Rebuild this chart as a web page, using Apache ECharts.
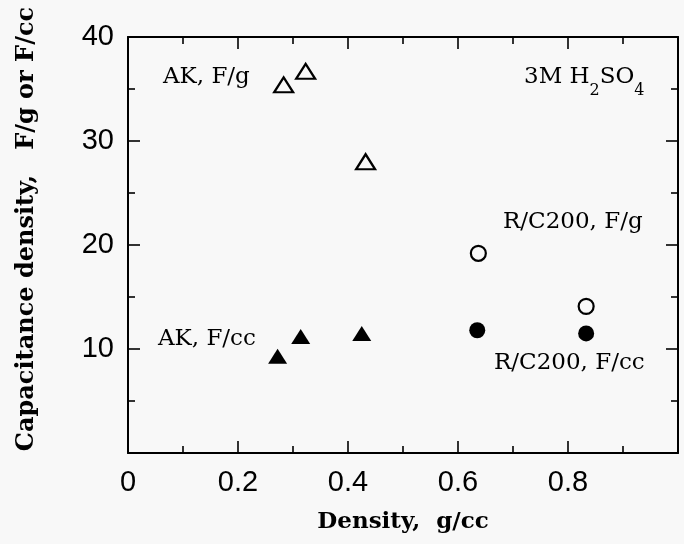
<!DOCTYPE html>
<html>
<head>
<meta charset="utf-8">
<script src="https://cdn.jsdelivr.net/npm/echarts@6/dist/echarts.min.js"></script>
<style>
html,body{margin:0;padding:0;background:#f8f8f8;}
#c{width:684px;height:544px;}
</style>
</head>
<body>
<div id="c"></div>
<script>
// Data
const akFgX = [0.283, 0.323, 0.432];
const akFgY = [35.4, 36.7, 28.0];
const akFccX = [0.272, 0.314, 0.425];
const akFccY = [9.3, 11.2, 11.5];
const rcFgX = [0.637, 0.833];
const rcFgY = [19.2, 14.1];
const rcFccX = [0.635, 0.833];
const rcFccY = [11.8, 11.5];

const xTickLabels = ['0', '0.2', '0.4', '0.6', '0.8', ''];
const yTickLabels = ['', '10', '20', '30', '40'];

const seriesNames = ['AK, F/g', 'AK, F/cc', 'R/C200, F/g', 'R/C200, F/cc'];
const xTitle = 'Density,  g/cc';
const yTitle = 'Capacitance density,   F/g or F/cc';

function zip(xs, ys) { return xs.map((x, i) => [x, ys[i]]); }

const serif = 'DejaVu Serif';
const sans = 'Liberation Sans';

const tickStyle = { color: '#000', width: 1.6 };

function mirrorAxis(extra) {
  return Object.assign({
    type: 'value',
    axisLine: { show: true, onZero: false, lineStyle: { color: '#000', width: 2 } },
    axisTick: { show: true, inside: true, length: 12, lineStyle: tickStyle },
    minorTick: { show: true, splitNumber: 2, length: 7, lineStyle: tickStyle },
    splitLine: { show: false },
    minorSplitLine: { show: false },
    axisLabel: { show: false }
  }, extra);
}

const chart = echarts.init(document.getElementById('c'), null, { renderer: 'canvas' });
chart.setOption({
  backgroundColor: '#f8f8f8',
  animation: false,
  grid: { left: 128, right: 6, top: 37, bottom: 91 },
  xAxis: [
    mirrorAxis({
      position: 'bottom', min: 0, max: 1, interval: 0.2,
      axisLabel: {
        show: true, margin: 15, color: '#000', fontFamily: sans, fontSize: 29,
        formatter: v => xTickLabels[Math.round(v / 0.2)]
      },
      name: xTitle, nameLocation: 'middle', nameGap: 58,
      nameTextStyle: { fontFamily: serif, fontWeight: 'bold', fontSize: 23, color: '#000' }
    }),
    mirrorAxis({ position: 'top', min: 0, max: 1, interval: 0.2 })
  ],
  yAxis: [
    mirrorAxis({
      position: 'left', min: 0, max: 40, interval: 10,
      axisLabel: {
        show: true, margin: 14, color: '#000', fontFamily: sans, fontSize: 29,
        formatter: v => yTickLabels[Math.round(v / 10)]
      }
    }),
    mirrorAxis({ position: 'right', min: 0, max: 40, interval: 10 })
  ],
  series: [
    {
      name: seriesNames[0], type: 'scatter', data: zip(akFgX, akFgY),
      symbol: 'triangle', symbolSize: [19, 15],
      itemStyle: { color: '#f8f8f8', borderColor: '#000', borderWidth: 2.2, opacity: 1 }
    },
    {
      name: seriesNames[1], type: 'scatter', data: zip(akFccX, akFccY),
      symbol: 'triangle', symbolSize: [19, 15],
      itemStyle: { color: '#000', opacity: 1 }
    },
    {
      name: seriesNames[2], type: 'scatter', data: zip(rcFgX, rcFgY),
      symbol: 'circle', symbolSize: 15,
      itemStyle: { color: '#f8f8f8', borderColor: '#000', borderWidth: 2.2, opacity: 1 }
    },
    {
      name: seriesNames[3], type: 'scatter', data: zip(rcFccX, rcFccY),
      symbol: 'circle', symbolSize: 16,
      itemStyle: { color: '#000', opacity: 1 }
    }
  ],
  graphic: [
    {
      type: 'text', x: 27, y: 229, rotation: Math.PI / 2,
      style: {
        text: yTitle, font: 'bold 24px "DejaVu Serif"', fill: '#000',
        align: 'center', verticalAlign: 'middle'
      }
    },
    { type: 'text', left: 163, top: 66, style: { text: seriesNames[0], font: '23px "DejaVu Serif"', fill: '#000' } },
    { type: 'text', left: 158, top: 328, style: { text: seriesNames[1], font: '23px "DejaVu Serif"', fill: '#000' } },
    { type: 'text', left: 503, top: 211, style: { text: seriesNames[2], font: '23px "DejaVu Serif"', fill: '#000' } },
    { type: 'text', left: 494, top: 352, style: { text: seriesNames[3], font: '23px "DejaVu Serif"', fill: '#000' } },
    {
      type: 'text', left: 524, top: 66,
      style: {
        text: '{a|3M H}{s|2}{a|SO}{s|4}',
        rich: {
          a: { fontFamily: serif, fontSize: 23, color: '#000', lineHeight: 27, verticalAlign: 'top' },
          s: { fontFamily: serif, fontSize: 16, color: '#000', lineHeight: 18, padding: [17, 0, 0, 0], verticalAlign: 'top' }
        }
      }
    }
  ]
});
</script>
</body>
</html>
